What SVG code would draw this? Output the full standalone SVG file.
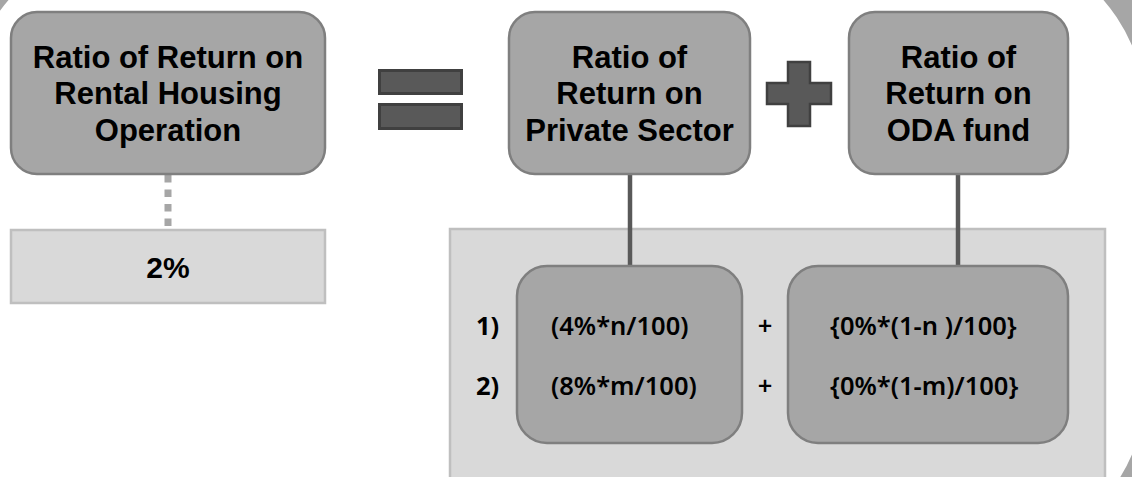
<svg xmlns="http://www.w3.org/2000/svg" width="1132" height="477" viewBox="0 0 1132 477">
<style>
.node{fill:#a6a6a6;stroke:#7f7f7f;stroke-width:2.5}
.light{fill:#d9d9d9;stroke:#bfbfbf;stroke-width:2.5}
.sym{fill:#595959;stroke:#404040;stroke-width:3}
.title{font-family:"Liberation Sans",Arial,sans-serif;font-weight:bold;font-size:31px;fill:#000;text-anchor:middle}
.f{font-family:"Noto Sans","Open Sans",sans-serif;font-weight:600;font-size:25.5px;fill:#000}
.conn{stroke:#595959;stroke-width:4.5;fill:none}
.dot{stroke:#a6a6a6;stroke-width:7;stroke-dasharray:7.5 7;fill:none}
</style>
<rect x="0" y="0" width="1132" height="477" fill="#ffffff"/>
<path d="M0 0H1132V477H0Z M140 -60H972A174 174 0 0 1 1146 114V386A174 174 0 0 1 972 560H140A174 174 0 0 1 -34 386V114A174 174 0 0 1 140 -60Z" fill="#a6a6a6" fill-rule="evenodd"/>
<g id="panel">
<rect class="light" x="450" y="229" width="655" height="270"/>
</g>
<g id="connectors">
<line class="dot" x1="168" y1="175" x2="168" y2="227"/>
<line class="conn" x1="630" y1="174" x2="630" y2="267"/>
<line class="conn" x1="958" y1="174" x2="958" y2="267"/>
</g>
<g id="node-rental">
<rect class="node" x="11" y="12" width="314" height="162" rx="26"/>
<text class="title" x="168" y="68">Ratio of Return on</text>
<text class="title" x="168" y="104">Rental Housing</text>
<text class="title" x="168" y="141">Operation</text>
</g>
<g id="node-value">
<rect class="light" x="11" y="230" width="314" height="73"/>
<text class="title" x="168" y="278" style="font-size:30px">2%</text>
</g>
<g id="equals">
<rect class="sym" x="379.5" y="70.5" width="82" height="23"/>
<rect class="sym" x="379.5" y="104.5" width="82" height="24"/>
</g>
<g id="node-private">
<rect class="node" x="509" y="12" width="241" height="162" rx="26"/>
<text class="title" x="629.5" y="68">Ratio of</text>
<text class="title" x="629.5" y="104">Return on</text>
<text class="title" x="629.5" y="141">Private Sector</text>
</g>
<g id="plus">
<path class="sym" style="stroke-width:2.5" d="M788 62H810V83H831V104H810V126H788V104H767V83H788Z"/>
</g>
<g id="node-oda">
<rect class="node" x="849" y="12" width="219" height="162" rx="26"/>
<text class="title" x="958.5" y="68">Ratio of</text>
<text class="title" x="958.5" y="104">Return on</text>
<text class="title" x="958.5" y="141">ODA fund</text>
</g>
<g id="node-formula-private">
<rect class="node" x="517" y="266" width="225" height="177" rx="30"/>
<text class="f" x="551" y="335">(4%*n/100)</text>
<text class="f" x="551" y="395">(8%*m/100)</text>
</g>
<g id="node-formula-oda">
<rect class="node" x="788" y="266" width="280" height="177" rx="30"/>
<text class="f" x="830" y="335">{0%*(1-n )/100}</text>
<text class="f" x="830" y="395">{0%*(1-m)/100}</text>
</g>
<g id="labels">
<text class="f" x="476" y="335" style="font-weight:bold">1)</text>
<text class="f" x="476" y="395" style="font-weight:bold">2)</text>
<text class="f" x="765" y="335" text-anchor="middle">+</text>
<text class="f" x="765" y="395" text-anchor="middle">+</text>
</g>
</svg>
